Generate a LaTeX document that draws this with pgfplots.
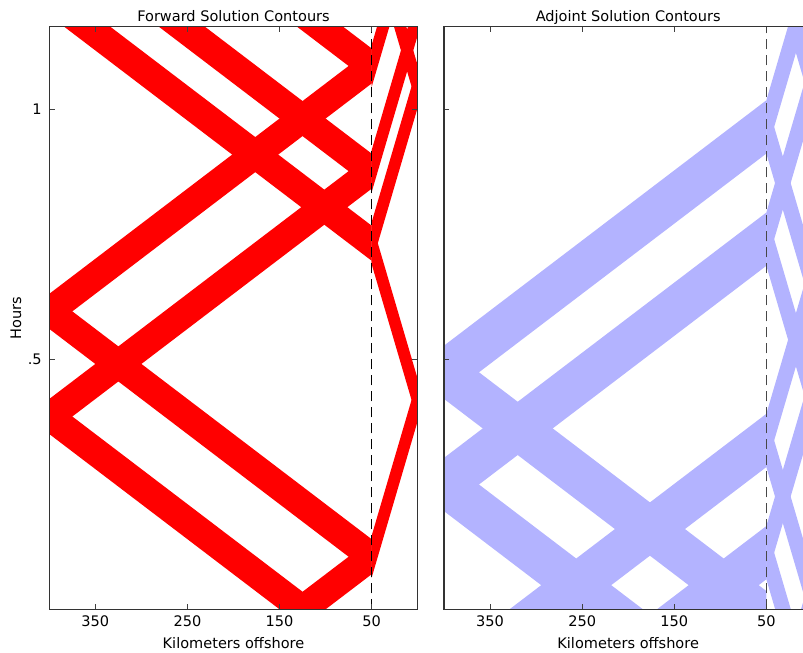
\documentclass[border=0pt]{standalone}
\usepackage{fontspec}
\setmainfont{DejaVu Sans}
\usepackage{pgfplots}
\pgfplotsset{compat=1.18}
\definecolor{fwd}{RGB}{255,0,0}
\definecolor{adj}{RGB}{179,179,255}

\pgfplotsset{
  panel/.style={
    scale only axis, width=276.3pt, height=437.25pt,
    anchor=south west,
    x dir=reverse, xmin=0, xmax=400, ymin=0, ymax=1.1667,
    xtick={50,150,250,350}, xticklabels={50,150,250,350},
    ytick={0.5,1},
    tick align=inside, major tick length=4pt,
    axis line style={black!80, line width=0.8pt},
    every tick/.style={black!75, line width=0.6pt},
    axis on top,
    /pgf/number format/assume math mode=true,
    tick label style={font=\fontsize{10.9}{13}\selectfont},
    label style={font=\fontsize{10.9}{13}\selectfont},
    title style={font=\fontsize{10.9}{13}\selectfont, at={(0.5,1)}, anchor=base, yshift=-2.5pt},
    xlabel={Kilometers offshore},
    xlabel style={at={(axis description cs:0.5,0)}, anchor=base, yshift=-29.25pt},
    xticklabel style={anchor=base, yshift=-13pt},
    yticklabel style={anchor=east, inner sep=0pt, xshift=-5.5pt},
  },
  band/.style={draw=none, fill=#1},
}

\begin{document}
\begin{tikzpicture}
% forward solution
\begin{axis}[panel, at={(36.98pt,32.78pt)},
  title={Forward Solution Contours},
  yticklabels={.5,1},
]
% deep water: initial hump splitting, then reflections
\addplot[band=fwd] coordinates {(50,0.0701) (125,-0.0351) (400,0.3507) (400,0.4209) (125,0.0351) (50,0.1403)};
\addplot[band=fwd] coordinates {(50,0.0701) (400,0.5611) (400,0.6313) (50,0.1403)};
\addplot[band=fwd] coordinates {(400,0.3507) (50,0.8417) (50,0.9119) (400,0.4209)};
\addplot[band=fwd] coordinates {(400,0.5611) (50,1.0522) (50,1.1224) (400,0.6313)};
\addplot[band=fwd] coordinates {(50,0.8417) (400,1.3327) (400,1.4029) (50,0.9119)};
\addplot[band=fwd] coordinates {(50,1.0522) (400,1.5432) (400,1.6134) (50,1.1224)};
\addplot[band=fwd] coordinates {(50,0.6975) (400,1.1885) (400,1.2587) (50,0.7677)};
% shelf
\addplot[band=fwd] coordinates {(50,0.0632) (0,0.3769) (0,0.4609) (50,0.1472)};
\addplot[band=fwd] coordinates {(0,0.3769) (50,0.6906) (50,0.7746) (0,0.4609)};
\addplot[band=fwd] coordinates {(50,0.6906) (0,1.0043) (0,1.0883) (50,0.7746)};
\addplot[band=fwd] coordinates {(0,1.0043) (50,1.3179) (50,1.4019) (0,1.0883)};
\addplot[band=fwd] coordinates {(50,0.8348) (0,1.1485) (0,1.2325) (50,0.9188)};
\addplot[band=fwd] coordinates {(50,1.0453) (0,1.3589) (0,1.4429) (50,1.1293)};
% shelf break
\addplot[black, line width=1.1pt, dash pattern=on 7.5pt off 4.5pt] coordinates {(50,0) (50,1.1667)};
\end{axis}
\node[rotate=90, font=\fontsize{10.9}{13}\selectfont] at (12pt,251.25pt) {Hours};

% adjoint solution
\begin{axis}[panel, at={(333pt,32.78pt)},
  title={Adjoint Solution Contours},
  yticklabels={},
]
% shelf
\addplot[band=adj] coordinates {(50,0.9120) (17.9,1.1134) (0,1.0011) (0,1.1077) (17.9,1.2200) (50,1.0186)};
\addplot[band=adj] coordinates {(50,0.9120) (0,0.5983) (0,0.7049) (50,1.0186)};
\addplot[band=adj] coordinates {(0,0.5983) (50,0.2846) (50,0.3912) (0,0.7049)};
\addplot[band=adj] coordinates {(50,0.2846) (0,-0.0291) (0,0.0776) (50,0.3912)};
\addplot[band=adj] coordinates {(0,-0.0291) (50,-0.3427) (50,-0.2361) (0,0.0776)};
\addplot[band=adj] coordinates {(0,1.0011) (50,0.6874) (50,0.7940) (0,1.1077)};
\addplot[band=adj] coordinates {(50,0.6874) (0,0.3737) (0,0.4803) (50,0.7940)};
\addplot[band=adj] coordinates {(0,0.3737) (50,0.0600) (50,0.1666) (0,0.4803)};
\addplot[band=adj] coordinates {(50,0.0600) (0,-0.2537) (0,-0.1470) (50,0.1666)};
% deep water
\addplot[band=adj] coordinates {(50,0.9120) (400,0.4210) (400,0.5276) (50,1.0186)};
\addplot[band=adj] coordinates {(400,0.4210) (50,-0.0701) (50,0.0366) (400,0.5276)};
\addplot[band=adj] coordinates {(50,0.6874) (400,0.1964) (400,0.3030) (50,0.7940)};
\addplot[band=adj] coordinates {(400,0.1964) (50,-0.2947) (50,-0.1880) (400,0.3030)};
\addplot[band=adj] coordinates {(50,0.2846) (400,-0.2064) (400,-0.0998) (50,0.3912)};
\addplot[band=adj] coordinates {(50,0.0600) (400,-0.4310) (400,-0.3244) (50,0.1666)};
\addplot[black!72, line width=1.1pt, dash pattern=on 7.5pt off 4.5pt] coordinates {(50,0) (50,1.1667)};
\end{axis}
\pgfresetboundingbox
\useasboundingbox (0,0) rectangle (602.25pt,489.75pt);
\end{tikzpicture}
\end{document}
